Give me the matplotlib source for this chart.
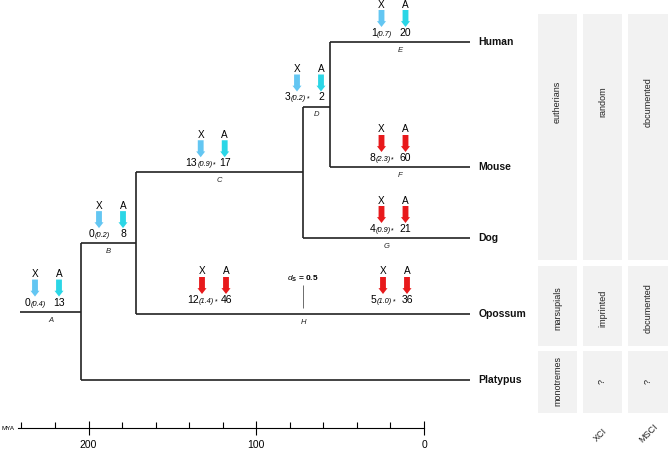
import numpy as np
import matplotlib.pyplot as plt
from matplotlib.offsetbox import TextArea, HPacker, AnnotationBbox

plt.rcParams['font.family'] = ['Liberation Sans', 'DejaVu Sans']
plt.rcParams['mathtext.fontset'] = 'custom'
plt.rcParams['mathtext.rm'] = 'Liberation Sans'
plt.rcParams['mathtext.it'] = 'Liberation Sans:italic'
plt.rcParams['mathtext.bf'] = 'Liberation Sans:bold'

# tree node ages (MY, as drawn) and tips
stem_age = 268.3
age_mammals = 232.0
age_therians = 199.0
age_eutherians = 99.6
age_euarch = 83.2
tips = ['Human', 'Mouse', 'Dog', 'Opossum', 'Platypus']

# gene counts per branch (X-linked / autosomal)
branch = ['A', 'B', 'C', 'D', 'E', 'F', 'G', 'H', 'H']
x_counts = [0, 0, 13, 3, 1, 8, 4, 12, 5]
x_ratio = ['0.4', '0.2', '0.9', '0.2', '0.7', '2.3', '0.9', '1.4', '1.0']
x_star = [False, False, True, True, False, True, True, True, True]
a_counts = [13, 8, 17, 2, 20, 60, 21, 46, 36]
trend = ['low', 'low', 'low', 'low', 'low', 'high', 'high', 'high', 'high']

# side table
clades = ['eutherians', 'marsupials', 'monotremes']
xci = ['random', 'imprinted', '?']
msci = ['documented', 'documented', '?']

W, H = 668, 451
fig = plt.figure(figsize=(W / 100, H / 100), dpi=100)

# pixel-space axes for the side table
axp = fig.add_axes([0, 0, 1, 1])
axp.set_xlim(0, W)
axp.set_ylim(H, 0)
axp.axis('off')

col_x = [(538, 577), (583, 622), (628, 668)]
row_y = [(14, 260), (266, 346), (351, 413)]
text_y = [102, 308, 381]
for j, col in enumerate([clades, xci, msci]):
    x0, x1 = col_x[j]
    for i, txt in enumerate(col):
        y0, y1 = row_y[i]
        axp.add_patch(plt.Rectangle((x0, y0), x1 - x0, y1 - y0, color='#f2f2f2', lw=0))
        axp.text((x0 + x1) / 2, text_y[i], txt, rotation=90, ha='center', va='center',
                 fontsize=6.5, color='#222222')
axp.text(600, 435, 'XCI', rotation=45, ha='center', va='center', fontsize=6.5, color='#222222')
axp.text(648, 433, 'MSCI', rotation=45, ha='center', va='center', fontsize=6.5, color='#222222')

# tree axes: x in MY before present
px_per_my = 1.677
ax = fig.add_axes([0, 0, 1, 1])
ax.patch.set_alpha(0)
ax.set_xlim(470 / px_per_my, (470 - W) / px_per_my)
ax.set_ylim(H, 0)
ax.axis('off')

tip_y = dict(zip(tips, [42, 167, 238, 314, 380]))
y_D = (tip_y['Human'] + tip_y['Mouse']) / 2 + 2
y_C = (y_D + tip_y['Dog']) / 2
y_B = (y_C + tip_y['Opossum']) / 2
y_A = (y_B + tip_y['Platypus']) / 2

lc = '#222222'
lw = 1.2
segs = [
    (stem_age, age_mammals, y_A, 'A'),
    (age_mammals, age_therians, y_B, 'B'),
    (age_therians, age_eutherians, y_C, 'C'),
    (age_eutherians, age_euarch, y_D, 'D'),
    (age_euarch, 0, tip_y['Human'], 'E'),
    (age_euarch, 0, tip_y['Mouse'], 'F'),
    (age_eutherians, 0, tip_y['Dog'], 'G'),
    (age_therians, 0, tip_y['Opossum'], 'H'),
    (age_mammals, 0, tip_y['Platypus'], None),
]
branch_y = {}
for a0, a1, y, lab in segs:
    ax.hlines(y, a0, a1, color=lc, lw=lw)
    if lab:
        branch_y[lab] = y
        ax.text((a0 + a1) / 2, y + 5, lab, style='italic', ha='center', va='top',
                fontsize=5.5, color='#222222')
ax.vlines(age_mammals, y_B, tip_y['Platypus'], color=lc, lw=lw)
ax.vlines(age_therians, y_C, tip_y['Opossum'], color=lc, lw=lw)
ax.vlines(age_eutherians, y_D, tip_y['Dog'], color=lc, lw=lw)
ax.vlines(age_euarch, tip_y['Human'], tip_y['Mouse'], color=lc, lw=lw)

for t in tips:
    ax.annotate(t, (0, tip_y[t]), xytext=(6, 0), textcoords='offset points',
                ha='left', va='center', fontsize=7.5, fontweight='bold', color='#111111')

# ds scale bar
ax.vlines(age_eutherians, 285, 308, color='#555555', lw=0.6)
ax.text(age_eutherians, 279, r'$\mathit{d}_\mathbf{S}$ = 0.5', ha='center', va='center',
        fontsize=6, fontweight='bold')

# arrow groups
grp_px = [35, 99, 200.7, 297, 381.5, 381.5, 381.5, 202, 383]
grp_lift = [0, 0, 0, 0, 0, 0, 0, 5, 5]
colors = {'low': ('#63c6f2', '#2bd6e6'), 'high': ('#e8191b', '#e8191b')}
a_dx = 24 / px_per_my
for k in range(len(branch)):
    xa = (470 - grp_px[k]) / px_per_my
    y = branch_y[branch[k]] - grp_lift[k]
    cx, ca = colors[trend[k]]
    for xx, c, lab in [(xa, cx, 'X'), (xa - a_dx, ca, 'A')]:
        ax.text(xx, y - 37.5, lab, ha='center', va='center', fontsize=7.2)
        ax.annotate('', xy=(xx, y - 15), xytext=(xx, y - 32),
                    arrowprops=dict(arrowstyle='simple,head_length=4.2,head_width=6.5,tail_width=4.2',
                                    mutation_scale=1, color=c, lw=0, shrinkA=0, shrinkB=0))
    parts = [TextArea(str(x_counts[k]), textprops=dict(fontsize=7.5)),
             TextArea(f'({x_ratio[k]})', textprops=dict(fontsize=5.3, style='italic'))]
    if x_star[k]:
        parts.append(TextArea('*', textprops=dict(fontsize=5)))
    box = HPacker(children=parts, align='baseline', pad=0, sep=0.3)
    ax.add_artist(AnnotationBbox(box, (xa, y - 9), xycoords='data', frameon=False,
                                 box_alignment=(0.5, 0.5), pad=0))
    ax.text(xa - a_dx, y - 9, str(a_counts[k]), ha='center', va='center', fontsize=7.5)

# time scale
axs = fig.add_axes([18.3 / W, 1 - 428 / H, (424 - 18.3) / W, 0.0001])
axs.set_xlim(241.9, 0)
for s in ['left', 'right', 'top']:
    axs.spines[s].set_visible(False)
axs.spines['bottom'].set_linewidth(0.8)
axs.set_yticks([])
axs.set_xticks([200, 100, 0])
axs.set_xticks([240, 220, 180, 160, 140, 120, 80, 60, 40, 20], minor=True)
axs.tick_params(axis='x', which='major', direction='inout', length=10, width=0.8,
                labelsize=7.5, pad=4)
axs.tick_params(axis='x', which='minor', direction='in', length=4, width=0.8)
axp.text(1, 428, 'MYA', ha='left', va='center', fontsize=4.5)

fig.savefig('out.png', dpi=100)
